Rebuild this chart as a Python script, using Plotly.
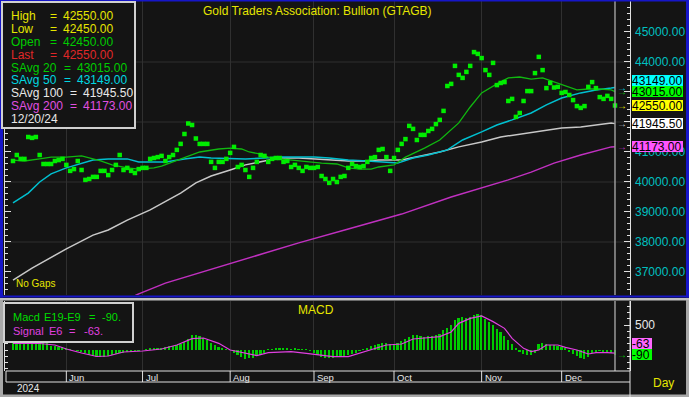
import plotly.graph_objects as go

W, H = 689, 397
FONT = "Liberation Sans, Arial, Helvetica, sans-serif"
BG = "#141414"

# ---------------- data ----------------
month_labels = ["Jun", "Jul", "Aug", "Sep", "Oct", "Nov", "Dec"]
month_idx = [14, 34, 57, 79, 100, 123, 144]          # trading-day index of month start
year_label = "2024"
title_text = "Gold Traders Association: Bullion (GTAGB)"
last_date = "12/20/24"

# daily last price (trading-day index 0..158)
price = [40700, 40900, 40770, 40770, 41500, 41470, 41500, 40900, 40600, 40600,
         40600, 40700, 40730, 40770, 40570, 40370, 40430, 40700, 40400, 40070,
         40100, 40170, 40170, 40370, 40370, 40230, 40400, 40570, 40900, 40400,
         40470, 40370, 40300, 40430, 40470, 40470, 40770, 40800, 40830, 40870,
         40700, 40830, 40900, 41070, 41270, 41600, 41950, 41900, 41450, 41270,
         41270, 41270, 40670, 40470, 40670, 40670, 40770, 40970, 41170, 40500,
         40570, 40400, 40170, 40470, 40670, 40900, 40870, 40670, 40770, 40800,
         40800, 40670, 40700, 40500, 40570, 40470, 40370, 40500, 40470, 40470,
         40500, 40200, 40100, 39970, 40100, 40000, 40170, 40200, 40470, 40600,
         40530, 40500, 40530, 40670, 40800, 40830, 41070, 41100, 40830, 40370,
         40800, 41070, 41270, 41430, 41870, 41770, 41400, 41570, 41570, 41700,
         41770, 41930, 42070, 42370, 43200, 43270, 43870, 43570, 43470, 43670,
         43870, 44330, 44270, 44130, 43730, 43570, 43970, 43230, 43300, 43330,
         42700, 42770, 42170, 42300, 42700, 43030, 43030, 43630, 44170, 43730,
         43130, 43300, 43150, 43170, 42970, 43000, 42900, 42730, 42530, 42470,
         42530, 43170, 43330, 43130, 42830, 42770, 42870, 42770, 42550]

sma20_idx = [0, 3, 7, 10, 14, 18, 20, 23, 26, 30, 33, 37, 39, 42, 46, 49, 54, 57, 60, 62,
             65, 67, 70, 73, 77, 81, 85, 88, 91, 94, 96, 100, 103, 108, 112, 117, 120, 123,
             127, 130, 133, 136, 139, 143, 145, 148, 151, 154, 157, 158]
sma20_val = [40730, 40700, 40770, 40830, 40830, 40870, 40800, 40700, 40570, 40470, 40430,
             40470, 40530, 40670, 40870, 41000, 41100, 41130, 41100, 41000, 40930, 40830,
             40770, 40730, 40670, 40630, 40600, 40470, 40430, 40430, 40500, 40570, 40830,
             41130, 41400, 41970, 42500, 42970, 43270, 43470, 43500, 43430, 43470, 43300,
             43200, 43070, 43100, 43100, 43070, 43015]

sma50_idx = [0, 4, 7, 10, 14, 18, 21, 25, 30, 33, 36, 40, 45, 49, 52, 57, 61, 66, 70, 75,
             79, 83, 88, 93, 96, 101, 105, 109, 114, 118, 123, 127, 131, 136, 140, 144, 149,
             153, 157, 158]
sma50_val = [39300, 39630, 40000, 40270, 40470, 40630, 40730, 40770, 40770, 40670, 40670,
             40670, 40770, 40830, 40800, 40770, 40770, 40800, 40830, 40830, 40830, 40800,
             40730, 40700, 40670, 40630, 40800, 40900, 41070, 41400, 41670, 41900, 42070,
             42300, 42570, 42800, 42970, 43070, 43130, 43149]

sma100_idx = [0, 5, 14, 21, 25, 30, 36, 42, 44, 48, 52, 57, 61, 66, 70, 75, 79, 83, 88, 92,
              96, 102, 107, 112, 117, 123, 128, 133, 138, 144, 149, 153, 157, 158]
sma100_val = [36730, 37130, 37770, 38230, 38400, 38730, 39070, 39470, 39630, 39970, 40200,
              40400, 40570, 40700, 40800, 40800, 40770, 40730, 40700, 40700, 40730, 40730,
              40870, 41000, 41170, 41330, 41500, 41600, 41700, 41800, 41830, 41900, 41970,
              41945.5]

sma200_idx = [31, 33, 40, 49, 62, 75, 88, 102, 115, 130, 136, 142, 149, 157, 158]
sma200_val = [36150, 36270, 36630, 36970, 37470, 37970, 38430, 38930, 39500, 40070, 40330,
              40630, 40900, 41170, 41173]

macd = [150, 150, 145, 150, 145, 150, 140, 145, 140, 135,
        90, 75, 70, 60,
        35, 20, 0, -20, -40, -60,
        -90, -110, -130, -135, -130, -120, -100,
        -80, -60, -50, -40, -30, -20, -10, 0,
        20, 30, 40, 45, 50, 60,
        80, 90, 100, 120, 160,
        230, 300, 310,
        280, 240, 200,
        150, 110, 70, 40,
        20, 0,
        -60, -100, -140, -170, -160, -150,
        -120, -90, -50,
        10, 20, 30, 30, 25, 30, 20, 25, 15, 10, 5, -10,
        -60, -100, -130, -150, -160, -150, -140, -130, -120, -100,
        -80, -50, -20,
        20, 50, 80, 100, 120, 140,
        140, 130, 130, 150, 180,
        220, 260, 300, 300,
        280, 270, 280, 290, 300, 320,
        400, 450, 500,
        600, 640, 660, 650, 670,
        700, 720, 700,
        620, 560, 500, 420,
        360, 280, 200,
        130, 40,
        -40, -80, -100, -90, -60,
        120, 150, 130,
        110, 100, 80, 60, 40,
        -40, -80, -120, -150, -170, -130,
        -50, -30, -20, -30, -40, -60, -90]

signal_idx = [0, 7, 11, 14, 18, 22, 25, 29, 34, 39, 43, 47, 50, 54, 57, 61, 64, 67, 73, 77,
              81, 84, 88, 94, 98, 102, 105, 108, 112, 115, 117, 120, 123, 126, 129, 131, 134,
              136, 138, 140, 143, 145, 148, 151, 153, 156, 158]
signal_val = [130, 130, 100, 20, -60, -130, -120, -40, -20, 20, 100, 227, 240, 133, 0, -67,
              -113, -53, -33, -67, -100, -133, -133, 0, 100, 120, 220, 240, 267, 360, 533, 633,
              680, 567, 433, 233, 33, -33, 0, 100, 100, 53, 0, -80, -53, -53, -63]

quote_high, quote_low, quote_open, quote_last = 42550.00, 42450.00, 42450.00, 42550.00
sma_last = {"20": 43015.00, "50": 43149.00, "100": 41945.50, "200": 41173.00}
macd_last, signal_last = -90, -63

price_ticks = [37000, 38000, 39000, 40000, 41000, 42000, 43000, 44000, 45000]
price_grid = [38000, 40000, 42000, 44000]
macd_ticks = [500]

# ---------------- geometry / style ----------------
PLOT_L, PLOT_R = 5, 630
MAIN_T, MAIN_B = 1, 295
MACD_T, MACD_B = 301, 371
X_RANGE = [-2.1, 161.94]
PRICE_RANGE = [36233, 46033]
MACD_RANGE = [-420, 980]

YEL = "#e6e600"
GRN = "#00cc00"
RED = "#e02828"
CYN = "#00d8e0"
WHT = "#e8e8e8"
MAG = "#e050e0"
BLUE = "#1616c8"
FRAME = "#a8a8a8"


def fx(p):
    return p / W


def fy(p):
    return 1 - p / H


def price_py(v):
    return MAIN_T + (PRICE_RANGE[1] - v) / (PRICE_RANGE[1] - PRICE_RANGE[0]) * (MAIN_B - MAIN_T)


def macd_py(v):
    return MACD_T + (MACD_RANGE[1] - v) / (MACD_RANGE[1] - MACD_RANGE[0]) * (MACD_B - MACD_T)


fig = go.Figure()

line_specs = [
    (sma200_idx, sma200_val, "#c030c0", 1.5),
    (sma100_idx, sma100_val, "#c8c8c8", 1.5),
    (sma50_idx, sma50_val, "#00c0d0", 1.5),
    (sma20_idx, sma20_val, "#10b810", 1.3),
]
for xs, ys, col, wd in line_specs:
    fig.add_trace(go.Scatter(x=xs, y=ys, mode="lines", line=dict(color=col, width=wd),
                             xaxis="x", yaxis="y", hoverinfo="skip"))

fig.add_trace(go.Scatter(x=list(range(len(price))), y=price, mode="markers",
                         marker=dict(symbol="square", size=4.5, color="#00ee00", line=dict(width=0)),
                         xaxis="x", yaxis="y", hoverinfo="skip"))

fig.add_trace(go.Bar(x=list(range(len(macd))), y=macd, width=0.45,
                     marker=dict(color="#00cc00", line=dict(width=0)),
                     xaxis="x2", yaxis="y2", hoverinfo="skip"))
fig.add_trace(go.Scatter(x=signal_idx, y=signal_val, mode="lines",
                         line=dict(color="#e040e0", width=1.2),
                         xaxis="x2", yaxis="y2", hoverinfo="skip"))

shapes = []
annots = []


def rect(x0, y0, x1, y1, fill, line_col=None, lw=0, layer="above"):
    shapes.append(dict(type="rect", xref="paper", yref="paper",
                       x0=fx(x0), x1=fx(x1), y0=fy(y1), y1=fy(y0),
                       fillcolor=fill, line=dict(color=line_col or fill, width=lw), layer=layer))


def hline(x0, x1, y, col, w=1, layer="above"):
    shapes.append(dict(type="line", xref="paper", yref="paper", x0=fx(x0), x1=fx(x1),
                       y0=fy(y), y1=fy(y), line=dict(color=col, width=w), layer=layer))


def vline(x, y0, y1, col, w=1, layer="above"):
    shapes.append(dict(type="line", xref="paper", yref="paper", x0=fx(x), x1=fx(x),
                       y0=fy(y0), y1=fy(y1), line=dict(color=col, width=w), layer=layer))


def text(x, y, s, col, size=12, xa="left", ya="middle", **kw):
    annots.append(dict(xref="paper", yref="paper", x=fx(x), y=fy(y), text=s, showarrow=False,
                       xanchor=xa, yanchor=ya, font=dict(family=FONT, size=size, color=col), **kw))


# price gridlines
for g in price_grid:
    shapes.append(dict(type="line", xref="paper", yref="y", x0=fx(PLOT_L), x1=fx(PLOT_R),
                       y0=g, y1=g, line=dict(color="#303030", width=1), layer="below"))

# last-bar marker line in both panels
last_i = len(price) - 1
for yr0, yr1 in [(MAIN_T, MAIN_B), (MACD_T, MACD_B)]:
    shapes.append(dict(type="line", xref="x", yref="paper", x0=last_i, x1=last_i,
                       y0=fy(yr1), y1=fy(yr0), line=dict(color="#9a9a9a", width=1.5), layer="above"))

# panel frames
rect(0, 0, 689, 1.5, BLUE)
rect(0, 0, 3, 297.5, BLUE)
rect(686, 0, 689, 297.5, BLUE)
rect(0, 295.5, 689, 297.5, BLUE)
rect(0, 298, 689, 300.5, "#c0c0c0")
rect(0, 300, 3, 397, FRAME)
rect(686, 300, 689, 397, FRAME)
rect(0, 394.5, 689, 397, FRAME)

# date strip
hline(6, PLOT_R, MACD_B, "#e0e0e0")
hline(6, PLOT_R, 382, "#e0e0e0")
vline(6, MACD_B, 382, "#e0e0e0")
vline(PLOT_R, MACD_T, 397, "#e0e0e0")
for lab, mi in zip(month_labels, month_idx):
    shapes.append(dict(type="line", xref="x2", yref="paper", x0=mi, x1=mi,
                       y0=fy(382), y1=fy(MACD_B), line=dict(color="#e0e0e0", width=1)))
    annots.append(dict(xref="x2", yref="paper", x=mi, y=fy(377), text=lab, showarrow=False,
                       xanchor="left", yanchor="middle", xshift=1,
                       font=dict(family=FONT, size=9.5, color=WHT)))
text(15, 388.5, year_label, WHT, 10)
text(663, 383, "Day", YEL, 12, xa="center")

# title / labels
text(317, 11, title_text, YEL, 12, xa="center")
text(316, 309.5, "MACD", YEL, 12, xa="center")
text(14, 291, "No Gaps", YEL, 10, ya="bottom")

# right-side value tags (price): resolve overlaps bottom-up
tags = [
    (sma_last["200"], "#ff55ff", "#c030c0", f"{sma_last['200']:.2f}"),
    (sma_last["100"], "#ffffff", "#c8c8c8", f"{sma_last['100']:.2f}"),
    (quote_last, "#ffff00", "#e6e600", f"{quote_last:.2f}"),
    (sma_last["20"], "#00ff00", "#10c010", f"{sma_last['20']:.2f}"),
    (sma_last["50"], "#00ffff", "#00c8d8", f"{sma_last['50']:.2f}"),
]
placed = []
prev = None
for val, bg, acol, s in sorted(tags, key=lambda t: -price_py(t[0])):
    c = price_py(val)
    if prev is not None and c > prev - 11.5:
        c = prev - 11.5
    prev = c
    placed.append((val, c, bg, acol, s))

# axis value labels (right side); labels completely hidden behind a tag are skipped
for v in price_ticks:
    ly = price_py(v)
    if any(abs(ly - c) < 3.5 for _, c, _, _, _ in placed):
        continue
    text(633, ly, f"{v:.2f}", "#00c0c0", 12)
for v in macd_ticks:
    text(633, macd_py(v), f"{v}", WHT, 12)

for val, c, bg, acol, s in placed:
    text(622, price_py(val), "→", acol, 10, xa="center")
    text(632, c, s, "#000000", 12, width=51, height=11, bgcolor=bg, borderpad=0,
         borderwidth=0, align="left")

mtags = [(macd_last, "#00ff00", "#00cc00"), (signal_last, "#ff66ff", "#e040e0")]
prev = None
for val, bg, acol in sorted(mtags, key=lambda t: -macd_py(t[0])):
    c = macd_py(val)
    if acol == "#00cc00":
        text(622, c, "→", acol, 10, xa="center")
    if prev is not None and c > prev - 11:
        c = prev - 11
    prev = c
    text(632, c, f"{val}", "#000000", 12, width=20, height=11, bgcolor=bg, borderpad=0,
         borderwidth=0, align="left")

# main legend box
rect(2, 2, 135, 128, BG, "#d0d0d0", 2)
rows = [
    (["High", "=", f"{quote_high:.2f}"], [9, 48, 61], YEL),
    (["Low", "=", f"{quote_low:.2f}"], [9, 48, 61], YEL),
    (["Open", "=", f"{quote_open:.2f}"], [9, 48, 61], GRN),
    (["Last", "=", f"{quote_last:.2f}"], [9, 48, 61], RED),
    (["SAvg", "20", "=", f"{sma_last['20']:.2f}"], [9, 41, 62, 75], GRN),
    (["SAvg", "50", "=", f"{sma_last['50']:.2f}"], [9, 41, 62, 75], CYN),
    (["SAvg", "100", "=", f"{sma_last['100']:.2f}"], [9, 41, 68, 81], WHT),
    (["SAvg", "200", "=", f"{sma_last['200']:.2f}"], [9, 41, 68, 81], MAG),
    ([last_date], [9], WHT),
]
for k, (parts, xs, col) in enumerate(rows):
    yy = 15.7 + k * 12.95
    for s, xx in zip(parts, xs):
        text(xx, yy, s, col, 12)

# MACD legend box
rect(4, 303, 133, 342, BG, "#d0d0d0", 2)
for s, xx in zip(["Macd", "E19-E9", "=", f"{macd_last}."], [11, 42, 87, 100]):
    text(xx, 317, s, "#00dd00", 11)
for s, xx in zip(["Signal", "E6", "=", f"{signal_last}."], [11, 47, 67, 82]):
    text(xx, 331, s, "#e040e0", 11)

axis_common = dict(showgrid=True, gridcolor="#303030", gridwidth=1, zeroline=False,
                   showticklabels=False, ticks="", tickmode="array", tickvals=month_idx,
                   range=X_RANGE, domain=[fx(PLOT_L), fx(PLOT_R)], showline=False, fixedrange=True)

fig.update_layout(
    width=W, height=H, margin=dict(l=0, r=0, t=0, b=0),
    paper_bgcolor=BG, plot_bgcolor=BG, showlegend=False,
    font=dict(family=FONT, color=WHT),
    bargap=0,
    xaxis=dict(anchor="y", **axis_common),
    xaxis2=dict(anchor="y2", matches="x", **axis_common),
    yaxis=dict(domain=[fy(MAIN_B), fy(MAIN_T)], range=PRICE_RANGE, anchor="x", side="right",
               tickmode="array", tickvals=price_ticks, showticklabels=False,
               ticks="inside", ticklen=6, tickcolor="#e0e0e0", tickwidth=1,
               minor=dict(tickmode="linear", tick0=36400, dtick=200, ticks="inside", ticklen=3,
                          tickcolor="#e0e0e0", showgrid=False),
               showline=True, linecolor="#e0e0e0", linewidth=1, mirror="ticks",
               showgrid=False, zeroline=False, fixedrange=True),
    yaxis2=dict(domain=[fy(MACD_B), fy(MACD_T)], range=MACD_RANGE, anchor="x2", side="right",
                tickmode="array", tickvals=macd_ticks, showticklabels=False,
                ticks="inside", ticklen=6, tickcolor="#e0e0e0", tickwidth=1,
                minor=dict(tickmode="linear", tick0=0, dtick=125, ticks="inside", ticklen=3,
                           tickcolor="#e0e0e0", showgrid=False),
                showline=True, linecolor="#e0e0e0", linewidth=1, mirror="ticks",
                showgrid=False, zeroline=False, fixedrange=True),
    shapes=shapes, annotations=annots,
)

fig.write_html("out.html", config={"displayModeBar": False},
               post_script="document.body.style.margin='0';document.body.style.overflow='hidden';")
